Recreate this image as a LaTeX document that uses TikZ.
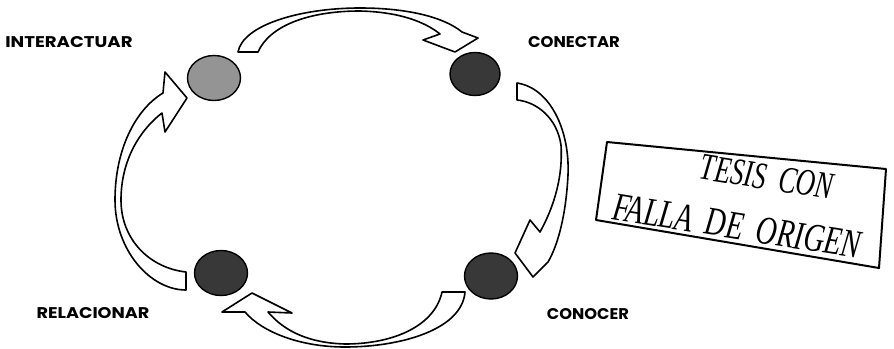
\documentclass[tikz,border=0pt]{standalone}
\usepackage{fontspec}
\newfontfamily\labfont{Poppins}
\newfontfamily\stampfont{Liberation Serif}
\usetikzlibrary{shapes.geometric}
\begin{document}
\begin{tikzpicture}[x=1pt,y=-1pt,
  ball/.style={ellipse,draw=black,line width=1.4pt,inner sep=0pt,minimum width=53pt,minimum height=45pt},
  lab/.style={font=\labfont\bfseries\fontsize{15.5}{16}\selectfont,inner sep=0pt},
  blockarrow/.style={draw=black,fill=white,line width=1.6pt,line join=round},
  stamptext/.style={font=\stampfont\itshape\fontsize{38}{38}\selectfont,inner sep=0pt,rotate=-9},
  stampbox/.style={draw=black,line width=2pt,line join=round}]
\useasboundingbox (0,0) rectangle (894,348);
% circles
\node[ball,fill=black!42] (i) at (214,78) {};
\node[ball,fill=black!78,minimum width=50pt,minimum height=43pt] (c) at (475,74) {};
\node[ball,fill=black!78] (r) at (221,273) {};
\node[ball,fill=black!78,minimum height=46pt] (k) at (491,276) {};
% labels
\node[lab] (li) at (69,42) {\scalebox{1.17}[1]{INTERACTUAR}};
\node[lab] (lc) at (574,42) {\scalebox{1.06}[1]{CONECTAR}};
\node[lab] (lr) at (93,313) {\scalebox{1.14}[1]{RELACIONAR}};
\node[lab] (lk) at (588,314) {\scalebox{1.05}[1]{CONOCER}};
% top arrow: interactuar -> conectar
\draw[blockarrow] (238,52) .. controls (243,25) and (300,8) .. (360,8)
  .. controls (410,8) and (445,18) .. (462,32) -- (478,38) -- (455,52) -- (423,40) -- (440,34)
  .. controls (425,22) and (400,12) .. (360,11)
  .. controls (310,11) and (270,25) .. (258,52) -- cycle;
% right arrow: conectar -> conocer
\draw[blockarrow] (517,83) .. controls (550,88) and (570,130) .. (568,175)
  .. controls (566,215) and (558,245) .. (548,262) -- (533,277) -- (515,253) -- (530,220) -- (540,232)
  .. controls (555,205) and (563,175) .. (561,145)
  .. controls (557,118) and (537,102) .. (517,100) -- cycle;
% bottom arrow: conocer -> relacionar
\draw[blockarrow] (465,292) .. controls (462,330) and (400,347) .. (345,347)
  .. controls (300,347) and (262,332) .. (245,312) -- (222,312) -- (252,293) -- (292,313) -- (268,312)
  .. controls (285,332) and (310,343) .. (345,344)
  .. controls (395,344) and (435,325) .. (442,292) -- cycle;
% left arrow: relacionar -> interactuar
\draw[blockarrow] (186,290) .. controls (150,290) and (115,250) .. (115,200)
  .. controls (115,150) and (135,110) .. (163,93) -- (165,72) -- (187,98) -- (165,132) -- (162,113)
  .. controls (140,130) and (121,160) .. (121,200)
  .. controls (121,240) and (150,268) .. (186,272) -- cycle;
% stamp
\draw[stampbox] (607,142) -- (886,169) -- (879,268) -- (596,220) -- cycle;
\node[stamptext] (s1) at (767,177) {\scalebox{0.7}[1]{TESIS\hspace{0.25em} CON}};
\node[stamptext,font=\stampfont\itshape\fontsize{40}{40}\selectfont] (s2) at (737,226) {\scalebox{0.72}[1]{FALLA\hspace{0.2em} DE\hspace{0.2em} ORIGEN}};
\end{tikzpicture}
\end{document}
